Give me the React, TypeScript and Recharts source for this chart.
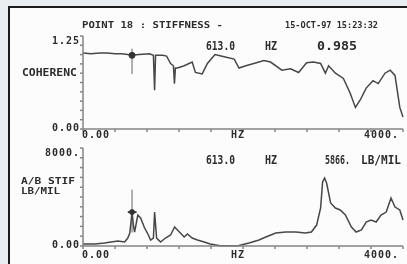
import { LineChart, Line, XAxis, YAxis, ReferenceLine, ReferenceDot } from 'recharts';

// coherence trace (Hz, coherence)
const cohFreq = [0, 100, 210, 300, 400, 480, 560, 613, 700, 830, 880, 895, 907, 995, 1045, 1095, 1130, 1143, 1155, 1180, 1265, 1365, 1405, 1490, 1555, 1650, 1765, 1890, 1950, 2035, 2135, 2260, 2345, 2485, 2595, 2695, 2795, 2880, 2970, 3030, 3070, 3155, 3255, 3340, 3405, 3465, 3540, 3625, 3690, 3775, 3840, 3900, 3960, 4000];
const cohValue = [1.02, 1.01, 1.02, 1.02, 1.01, 1.01, 1.0, 0.99, 1.0, 1.01, 0.99, 0.52, 0.99, 0.99, 0.98, 0.88, 0.85, 0.61, 0.82, 0.82, 0.85, 0.9, 0.76, 0.74, 0.88, 1.0, 0.97, 0.94, 0.82, 0.85, 0.88, 0.92, 0.9, 0.79, 0.81, 0.76, 0.89, 0.9, 0.88, 0.75, 0.85, 0.75, 0.68, 0.48, 0.29, 0.39, 0.55, 0.65, 0.61, 0.75, 0.79, 0.72, 0.29, 0.16];

// A/B stiffness trace (Hz, LB/MIL)
const stiffFreq = [0, 150, 270, 350, 435, 520, 560, 585, 613, 630, 645, 685, 720, 770, 805, 845, 880, 895, 920, 970, 1030, 1095, 1145, 1205, 1265, 1305, 1365, 1430, 1515, 1590, 1715, 1925, 1950, 2075, 2200, 2285, 2410, 2535, 2660, 2780, 2855, 2920, 2970, 2995, 3020, 3045, 3095, 3155, 3215, 3280, 3355, 3415, 3480, 3540, 3600, 3665, 3725, 3790, 3850, 3900, 3960, 4000];
const stiffValue = [160, 170, 240, 330, 410, 330, 650, 1060, 2770, 1710, 1140, 2530, 2290, 1470, 1060, 490, 650, 2770, 650, 330, 650, 900, 1550, 1140, 730, 980, 650, 490, 330, 160, 30, 30, 40, 245, 490, 730, 1060, 1140, 1140, 1060, 1140, 1710, 3100, 5220, 5550, 5140, 3510, 3100, 2940, 2530, 1550, 1140, 1310, 1960, 2120, 1960, 2530, 2770, 3920, 3180, 2940, 2120];

const freqTicks = [0, 400, 800, 1200, 1600, 2000, 2400, 2800, 3200, 3600, 4000];
const cohTicks = [0, 0.125, 0.25, 0.375, 0.5, 0.625, 0.75, 0.875, 1, 1.125, 1.25];
const stiffTicks = [0, 800, 1600, 2400, 3200, 4000, 4800, 5600, 6400, 7200, 8000];
const freqLabels: Record<number, string> = { 0: '0.00', 2000: 'HZ', 4000: '4000.' };
const cohLabels = ['0.00', '1.25'];
const stiffLabels = ['0.00', '8000.'];

const cursorHz = 613;
const cursorCoh = 0.99;
const cursorStiff = 2770;

const cohData = cohFreq.map((hz, i) => ({ hz, v: cohValue[i] }));
const stiffData = stiffFreq.map((hz, i) => ({ hz, v: stiffValue[i] }));

const FONT = '"DejaVu Sans Mono", monospace';
const INK = '#2c2c2c';
const AXIS = '#858585';
const TRACE = '#474747';

const makeFreqTick = (dy: number) => (props: any) => {
  const { x, y, payload } = props;
  const label = freqLabels[payload.value];
  if (!label) return <g />;
  const anchor = payload.value === 0 ? 'start' : payload.value === 4000 ? 'end' : 'middle';
  const dx = payload.value === 4000 ? -4 : payload.value === 0 ? -1 : -5;
  return (
    <text x={x + dx} y={y} dy={dy} textAnchor={anchor} fontFamily={FONT} fontWeight="bold" fontSize={10} letterSpacing={1} fill={INK}>
      {label}
    </text>
  );
};

const makeValueTick = (labels: string[], count: number, bottomDy: number) => (props: any) => {
  const { x, y, index } = props;
  let label = '';
  let dy = 0;
  if (index === 0) { label = labels[0]; dy = bottomDy; }
  else if (index === count - 1) { label = labels[1]; dy = 7.5; }
  if (!label) return <g />;
  return (
    <text x={x} y={y} dy={dy} textAnchor="end" fontFamily={FONT} fontWeight="bold" fontSize={10} letterSpacing={1} fill={INK}>
      {label}
    </text>
  );
};

const txt = { fontFamily: FONT, fontWeight: 'bold' as const, fill: INK };

export default function App() {
  return (
    <div style={{ position: 'fixed', left: 0, top: 0, width: 407, height: 264, background: '#e8eef2', overflow: 'hidden', filter: 'blur(0.35px)' }}>
      <div style={{ position: 'absolute', left: 8, top: 6, width: 410, height: 270, background: '#fcfcfc', borderLeft: '2px solid #1c1c1c', borderTop: '2px solid #1c1c1c' }} />

      <div style={{ position: 'absolute', left: 0, top: 0 }}>
        <LineChart width={407} height={140} data={cohData} margin={{ top: 36, right: 4, bottom: 0, left: 3 }}>
          <XAxis dataKey="hz" type="number" domain={[0, 4000]} ticks={freqTicks} interval={0} height={11}
            tickSize={3} tickMargin={1} stroke={AXIS} strokeWidth={1.5} tick={makeFreqTick(5)} />
          <XAxis xAxisId="frame" orientation="top" dataKey="hz" type="number" domain={[0, 4000]} height={0}
            tick={false} tickLine={false} stroke={AXIS} strokeWidth={1.5} />
          <YAxis type="number" domain={[0, 1.25]} ticks={cohTicks} interval={0} width={80}
            tickSize={3} tickMargin={0} stroke={AXIS} strokeWidth={1.5} tick={makeValueTick(cohLabels, cohTicks.length, 1.5)} />
          <YAxis yAxisId="frame" orientation="right" type="number" domain={[0, 1.25]} width={0}
            tick={false} tickLine={false} stroke={AXIS} strokeWidth={1.5} />
          <ReferenceLine segment={[{ x: cursorHz, y: 0.74 }, { x: cursorHz, y: 1.08 }]} stroke="#666" strokeWidth={1} />
          <Line dataKey="v" type="linear" stroke={TRACE} strokeWidth={1.5} dot={false} isAnimationActive={false} />
          <ReferenceDot x={cursorHz} y={cursorCoh} r={3} fill="#333" stroke="#333" />
        </LineChart>
      </div>

      <div style={{ position: 'absolute', left: 0, top: 140 }}>
        <LineChart width={407} height={124} data={stiffData} margin={{ top: 8, right: 4, bottom: 0, left: 3 }}>
          <XAxis dataKey="hz" type="number" domain={[0, 4000]} ticks={freqTicks} interval={0} height={18}
            tickSize={3} tickMargin={1} stroke={AXIS} strokeWidth={1.5} tick={makeFreqTick(8)} />
          <XAxis xAxisId="frame" orientation="top" dataKey="hz" type="number" domain={[0, 4000]} height={0}
            tick={false} tickLine={false} stroke={AXIS} strokeWidth={1.5} />
          <YAxis type="number" domain={[0, 8000]} ticks={stiffTicks} interval={0} width={80}
            tickSize={3} tickMargin={0} stroke={AXIS} strokeWidth={1.5} tick={makeValueTick(stiffLabels, stiffTicks.length, 2)} />
          <YAxis yAxisId="frame" orientation="right" type="number" domain={[0, 8000]} width={0}
            tick={false} tickLine={false} stroke={AXIS} strokeWidth={1.5} />
          <ReferenceLine segment={[{ x: cursorHz, y: 1100 }, { x: cursorHz, y: 4600 }]} stroke="#666" strokeWidth={1} />
          <ReferenceLine segment={[{ x: 560, y: cursorStiff }, { x: 670, y: cursorStiff }]} stroke="#444" strokeWidth={2} />
          <Line dataKey="v" type="linear" stroke={TRACE} strokeWidth={1.5} dot={false} isAnimationActive={false} />
          <ReferenceDot x={cursorHz} y={cursorStiff} r={2.5} fill="#333" stroke="#333" />
        </LineChart>
      </div>

      <svg width={407} height={264} style={{ position: 'absolute', left: 0, top: 0, pointerEvents: 'none' }}>
        <text x={82} y={28} fontSize={9} textLength={141} lengthAdjust="spacingAndGlyphs" {...txt}>POINT 18 : STIFFNESS -</text>
        <text x={285} y={28} fontSize={9} textLength={93} lengthAdjust="spacingAndGlyphs" {...txt}>15-OCT-97  15:23:32</text>

        <text x={206} y={50} fontSize={13} textLength={29} lengthAdjust="spacingAndGlyphs" {...txt}>613.0</text>
        <text x={265} y={50} fontSize={13} textLength={12} lengthAdjust="spacingAndGlyphs" {...txt}>HZ</text>
        <text x={317} y={50} fontSize={13} textLength={40} lengthAdjust="spacingAndGlyphs" {...txt}>0.985</text>

        <text x={206} y={164} fontSize={13} textLength={29} lengthAdjust="spacingAndGlyphs" {...txt}>613.0</text>
        <text x={265} y={164} fontSize={13} textLength={12} lengthAdjust="spacingAndGlyphs" {...txt}>HZ</text>
        <text x={325} y={164} fontSize={13} textLength={25} lengthAdjust="spacingAndGlyphs" {...txt}>5866.</text>
        <text x={361} y={164} fontSize={11.5} textLength={40} lengthAdjust="spacingAndGlyphs" {...txt}>LB/MIL</text>

        <text x={22} y={76} fontSize={10} textLength={55} lengthAdjust="spacingAndGlyphs" {...txt}>COHERENC</text>
        <text x={21} y={184} fontSize={8.5} textLength={54} lengthAdjust="spacingAndGlyphs" {...txt}>A/B STIF</text>
        <text x={21} y={194} fontSize={8.5} textLength={39} lengthAdjust="spacingAndGlyphs" {...txt}>LB/MIL</text>
      </svg>
    </div>
  );
}
